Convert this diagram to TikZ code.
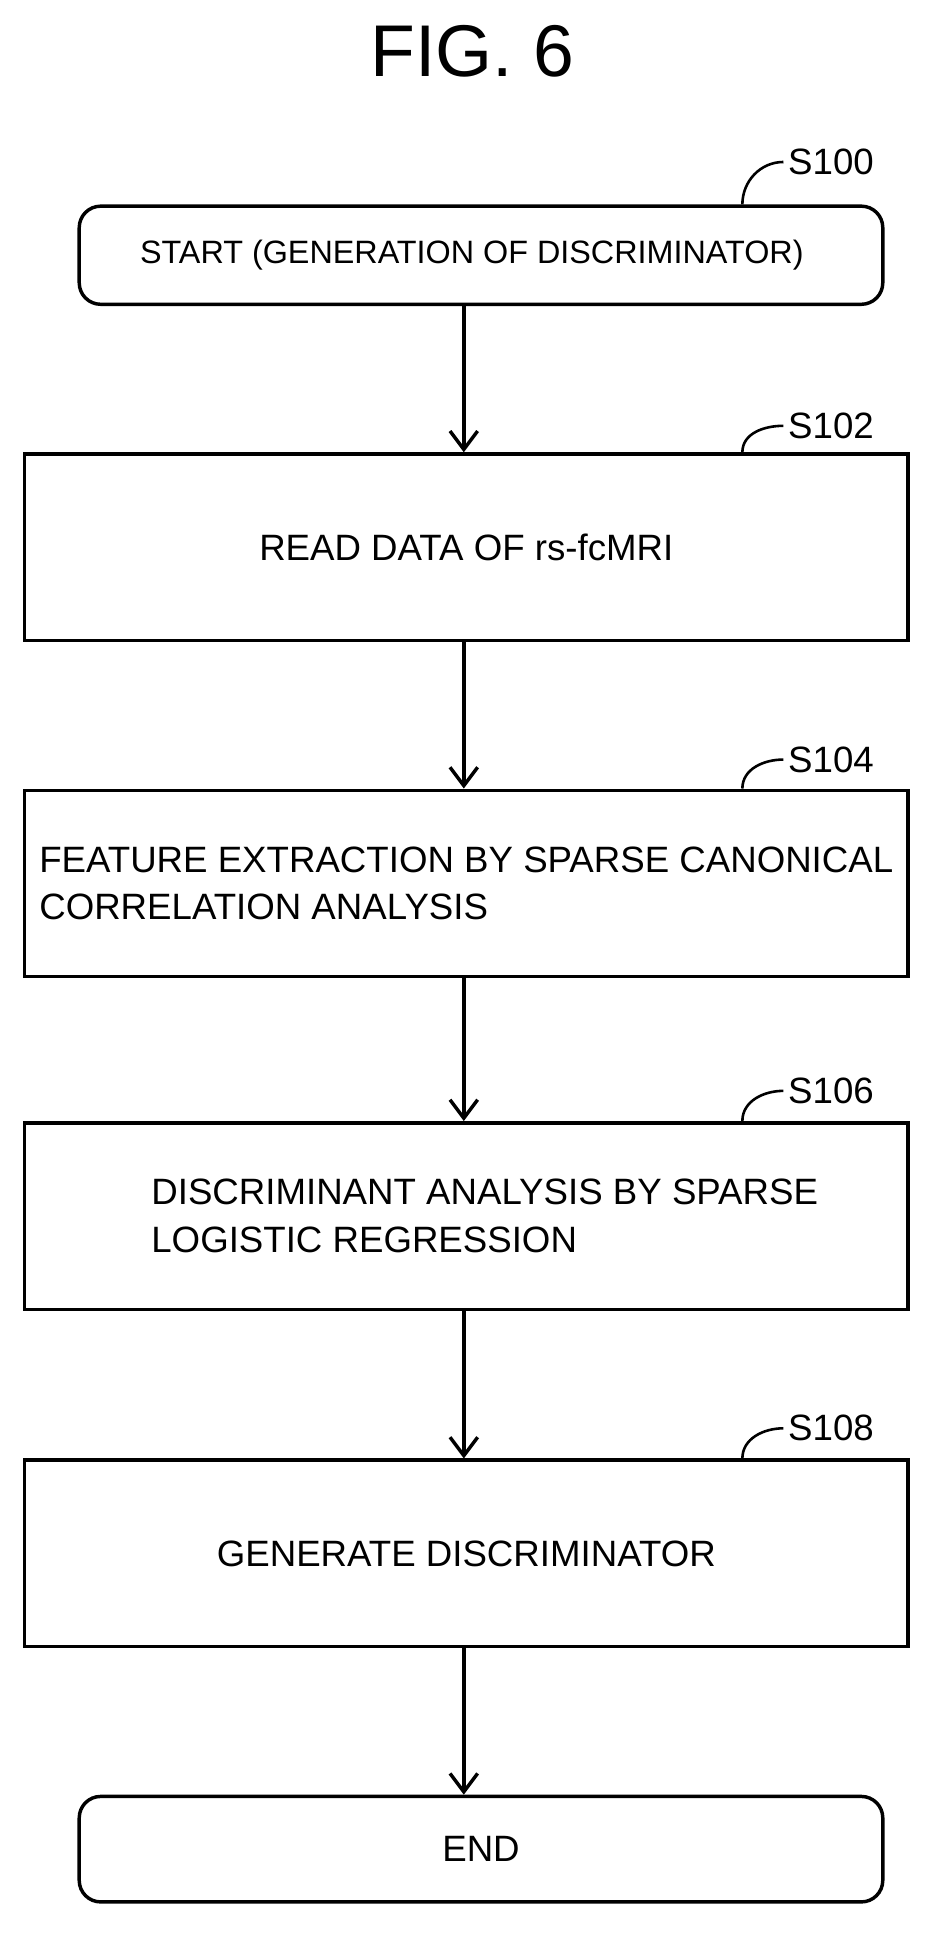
\documentclass[tikz,border=0pt]{standalone}
\usepackage{fontspec}
\setmainfont{Liberation Sans}
\usetikzlibrary{positioning, arrows.meta}
\tikzset{
  box/.style = {draw, line width=1.6pt, minimum width=14.4cm, minimum height=3.04cm},
  term/.style = {draw, line width=1.6pt, rounded corners=0.35cm, minimum width=13.1cm},
  lbl/.style = {font=\fontsize{17}{20}\selectfont, inner sep=0pt},
  flow/.style = {-{Straight Barb[length=0.3cm,width=0.45cm]}, line width=1.6pt}
}
\begin{document}
\begin{tikzpicture}[x=0.02cm, y=-0.02cm, every node/.style={font=\fontsize{17}{22}\selectfont}]
  \useasboundingbox (0,0) rectangle (770,1590);
  \node[font=\fontsize{34}{40}\selectfont] (fig) at (385,42) {FIG. 6};

  % boxes
  \node[term, minimum height=1.6cm, font=\fontsize{15}{20}\selectfont] (start) at (392,208) {\hspace*{-0.3cm}START (GENERATION OF DISCRIMINATOR)};
  \node[box] (read) at (380,446) {READ DATA OF rs-fcMRI};
  \node[box, align=left] (feat) at (380,720) {FEATURE EXTRACTION BY SPARSE CANONICAL\\CORRELATION ANALYSIS};
  \node[box, align=left] (disc) at (380,991) {\hspace*{0.6cm}DISCRIMINANT ANALYSIS BY SPARSE\\\hspace*{0.6cm}LOGISTIC REGRESSION};
  \node[box] (gen) at (380,1266) {GENERATE DISCRIMINATOR};
  \node[term, minimum height=1.72cm] (end) at (392,1507) {END};

  % arrows
  \draw[flow] (start.south -| 378,0) -- (read.north -| 378,0);
  \draw[flow] (read.south -| 378,0) -- (feat.north -| 378,0);
  \draw[flow] (feat.south -| 378,0) -- (disc.north -| 378,0);
  \draw[flow] (disc.south -| 378,0) -- (gen.north -| 378,0);
  \draw[flow] (gen.south -| 378,0) -- (end.north -| 378,0);

  % step labels
  \node[lbl, anchor=west] (l100) at (642,132) {S100};
  \node[lbl, anchor=west] (l102) at (642,347) {S102};
  \node[lbl, anchor=west] (l104) at (642,619) {S104};
  \node[lbl, anchor=west] (l106) at (642,889) {S106};
  \node[lbl, anchor=west] (l108) at (642,1164) {S108};
  \foreach \n/\b in {l100/start,l102/read,l104/feat,l106/disc,l108/gen}
    \draw[line width=1.2pt] (\b.north -| 605,0) to[out=90,in=180] ([xshift=-2pt]\n.west);
\end{tikzpicture}
\end{document}
